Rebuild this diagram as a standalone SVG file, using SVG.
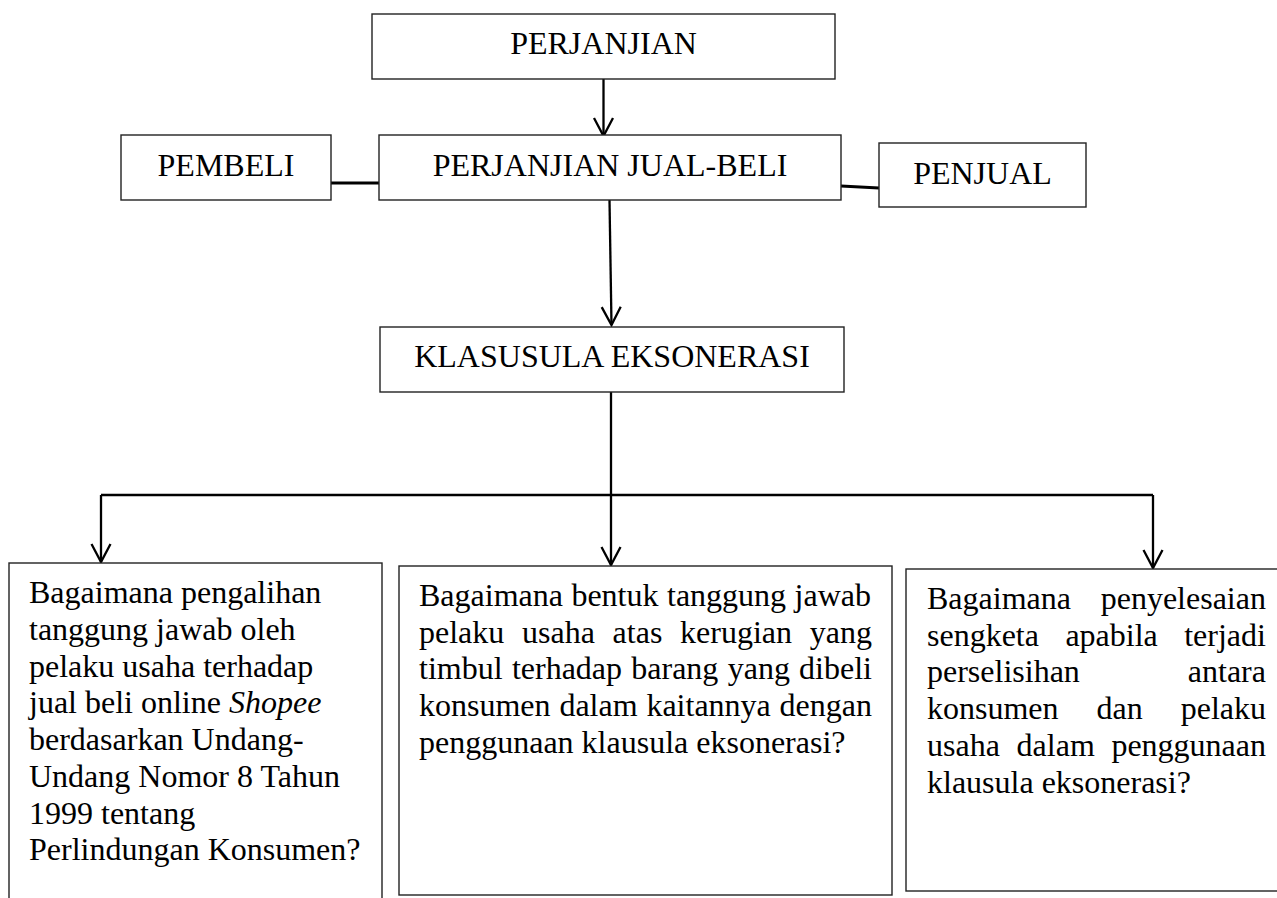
<svg xmlns="http://www.w3.org/2000/svg" width="1277" height="898" viewBox="0 0 1277 898">
<style>
.box{fill:#fff;stroke:#222;stroke-width:1.4}
.t{font-family:"Liberation Serif","Times New Roman",serif;font-size:32px;fill:#000}
.c{text-anchor:middle}
.con{fill:none;stroke:#000;stroke-width:2.3}
</style>
<defs>
<marker id="arr" markerUnits="userSpaceOnUse" markerWidth="24" markerHeight="26" viewBox="-21 -13 24 26" refX="0" refY="0" orient="auto">
<path d="M-18,-9.5 L0,0 L-18,9.5" fill="none" stroke="#000" stroke-width="2.3"/>
</marker>
</defs>
<rect width="1277" height="898" fill="#fff"/>
<g id="connectors">
<path class="con" d="M603.5,79 L603.5,136" marker-end="url(#arr)"/>
<path class="con" d="M331,183 L379,183" style="stroke-width:3"/>
<path class="con" d="M841,186 L879,188" style="stroke-width:3"/>
<path class="con" d="M609.5,200 L611.5,325" marker-end="url(#arr)"/>
<path class="con" d="M611,392 L611,565" marker-end="url(#arr)"/>
<path class="con" d="M101,495 L1153,495" style="stroke-width:2.6"/>
<path class="con" d="M101,495 L101,562" marker-end="url(#arr)"/>
<path class="con" d="M1153,495 L1153,568" marker-end="url(#arr)"/>
</g>
<g id="perjanjian">
<rect class="box" x="372" y="14" width="463" height="65"/>
<text class="t c" x="603.5" y="54">PERJANJIAN</text>
</g>
<g id="pembeli">
<rect class="box" x="121" y="135" width="210" height="65"/>
<text class="t c" x="226" y="176">PEMBELI</text>
</g>
<g id="jual-beli">
<rect class="box" x="379" y="135" width="462" height="65"/>
<text class="t c" x="610" y="176">PERJANJIAN JUAL-BELI</text>
</g>
<g id="penjual">
<rect class="box" x="879" y="143" width="207" height="64"/>
<text class="t c" x="982.5" y="184">PENJUAL</text>
</g>
<g id="klausula">
<rect class="box" x="380" y="327" width="464" height="65"/>
<text class="t c" x="612" y="367">KLASUSULA EKSONERASI</text>
</g>
<g id="q1">
<rect class="box" x="9" y="563" width="373" height="350"/>
<text class="t" x="29" y="603.3">Bagaimana pengalihan</text>
<text class="t" x="29" y="640">tanggung jawab oleh</text>
<text class="t" x="29" y="676.7">pelaku usaha terhadap</text>
<text class="t" x="29" y="713.4">jual beli online <tspan font-style="italic">Shopee</tspan></text>
<text class="t" x="29" y="750.1">berdasarkan Undang-</text>
<text class="t" x="29" y="786.8">Undang Nomor 8 Tahun</text>
<text class="t" x="29" y="823.5">1999 tentang</text>
<text class="t" x="29" y="860.2">Perlindungan Konsumen?</text>
</g>
<g id="q2">
<rect class="box" x="399" y="566" width="493" height="329"/>
<text class="t" y="606"><tspan x="419">Bagaimana</tspan><tspan x="571.4">bentuk</tspan><tspan x="667">tanggung</tspan><tspan x="794.6">jawab</tspan></text>
<text class="t" y="642.7"><tspan x="419">pelaku</tspan><tspan x="522">usaha</tspan><tspan x="612.6">atas</tspan><tspan x="680.1">kerugian</tspan><tspan x="809.8">yang</tspan></text>
<text class="t" y="679.4"><tspan x="419">timbul</tspan><tspan x="511.9">terhadap</tspan><tspan x="631.3">barang</tspan><tspan x="727.7">yang</tspan><tspan x="799.1">dibeli</tspan></text>
<text class="t" y="716.1"><tspan x="419">konsumen</tspan><tspan x="559.4">dalam</tspan><tspan x="646.4">kaitannya</tspan><tspan x="779.6">dengan</tspan></text>
<text class="t" x="419" y="752.8">penggunaan klausula eksonerasi?</text>
</g>
<g id="q3">
<rect class="box" x="906" y="569" width="380" height="322"/>
<text class="t" y="609"><tspan x="927">Bagaimana</tspan><tspan x="1100.7">penyelesaian</tspan></text>
<text class="t" y="645.7"><tspan x="927">sengketa</tspan><tspan x="1065.4">apabila</tspan><tspan x="1184.2">terjadi</tspan></text>
<text class="t" y="682.4"><tspan x="927">perselisihan</tspan><tspan x="1187.8">antara</tspan></text>
<text class="t" y="719.1"><tspan x="927">konsumen</tspan><tspan x="1096.6">dan</tspan><tspan x="1180.7">pelaku</tspan></text>
<text class="t" y="755.8"><tspan x="927">usaha</tspan><tspan x="1016.6">dalam</tspan><tspan x="1111.4">penggunaan</tspan></text>
<text class="t" x="927" y="792.5">klausula eksonerasi?</text>
</g>
</svg>
